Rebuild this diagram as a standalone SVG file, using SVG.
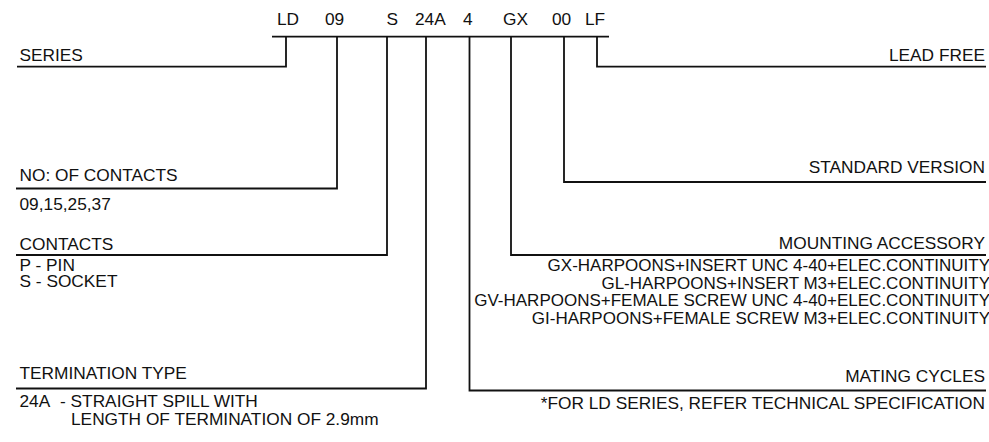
<svg xmlns="http://www.w3.org/2000/svg" width="989" height="442" viewBox="0 0 989 442">
<style>
  text { font-family: "Liberation Sans", Arial, sans-serif; font-size: 17.3px; fill: #111; }
  .r { text-anchor: end; }
  .d { font-size: 17px; }
  .ln { fill: none; stroke: #111; stroke-width: 1.8; }
</style>
<rect width="989" height="442" fill="#fff"/>
<g id="code">
  <text x="277" y="25">LD</text>
  <text x="325" y="25">09</text>
  <text x="386.5" y="25">S</text>
  <text x="415" y="25">24A</text>
  <text x="463" y="25">4</text>
  <text x="503" y="25">GX</text>
  <text x="552" y="25">00</text>
  <text x="585" y="25">LF</text>
</g>
<g id="connectors">
  <path class="ln" d="M272,36.7 H609"/>
  <path class="ln" d="M17,66.7 H286 V36.7"/>
  <path class="ln" d="M597,36.7 V66.7 H986"/>
  <path class="ln" d="M337,36.7 V188.5 H16"/>
  <path class="ln" d="M387,36.7 V255 H16"/>
  <path class="ln" d="M426,36.7 V388.5 H16"/>
  <path class="ln" d="M469.5,36.7 V390.5 H986"/>
  <path class="ln" d="M511,36.7 V255 H986"/>
  <path class="ln" d="M564,36.7 V182 H986"/>
</g>
<g id="series"><text x="19.5" y="61">SERIES</text></g>
<g id="contacts-no">
  <text x="19.5" y="181">NO: OF CONTACTS</text>
  <text x="19.5" y="210">09,15,25,37</text>
</g>
<g id="contacts">
  <text x="19.5" y="250">CONTACTS</text>
  <text x="19.5" y="270.5">P - PIN</text>
  <text x="19.5" y="287">S - SOCKET</text>
</g>
<g id="termination">
  <text x="19.5" y="379">TERMINATION TYPE</text>
  <text x="19.5" y="407">24A</text>
  <text x="60" y="407">- STRAIGHT SPILL WITH</text>
  <text x="71" y="425">LENGTH OF TERMINATION OF 2.9mm</text>
</g>
<g id="lead-free"><text class="r" x="985" y="61">LEAD FREE</text></g>
<g id="standard"><text class="r" x="985" y="172.5">STANDARD VERSION</text></g>
<g id="mounting">
  <text class="r" x="985" y="249">MOUNTING ACCESSORY</text>
  <text class="r d" x="990" y="270.5">GX-HARPOONS+INSERT UNC 4-40+ELEC.CONTINUITY</text>
  <text class="r d" x="990" y="288.5">GL-HARPOONS+INSERT M3+ELEC.CONTINUITY</text>
  <text class="r d" x="990" y="306">GV-HARPOONS+FEMALE SCREW UNC 4-40+ELEC.CONTINUITY</text>
  <text class="r d" x="990" y="324">GI-HARPOONS+FEMALE SCREW M3+ELEC.CONTINUITY</text>
</g>
<g id="mating">
  <text class="r" x="985" y="381.5">MATING CYCLES</text>
  <text class="r" x="985" y="409">*FOR LD SERIES, REFER TECHNICAL SPECIFICATION</text>
</g>
</svg>
